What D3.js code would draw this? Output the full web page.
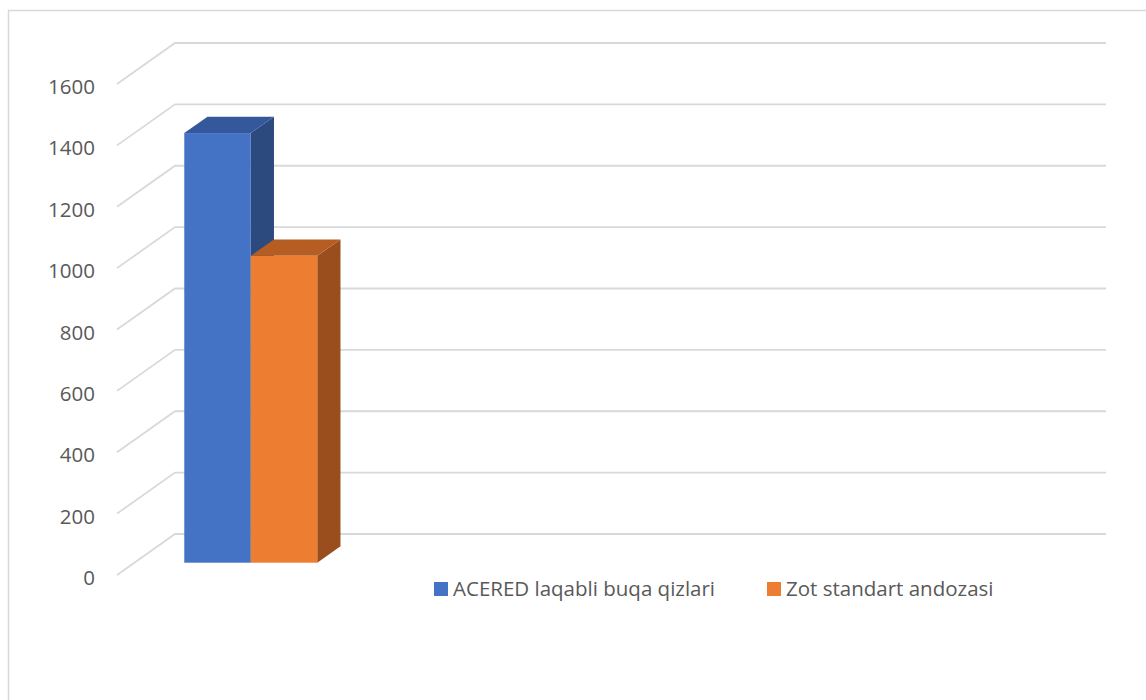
<!DOCTYPE html>
<html>
<head>
<meta charset="utf-8">
<script src="https://cdn.jsdelivr.net/npm/d3@7"></script>
<style>
  body { margin: 0; background: #fff; }
  text { font-family: "Open Sans", sans-serif; fill: #595959; }
</style>
</head>
<body>
<svg width="1146" height="700"></svg>
<script>
// data
const categories = ["1", "2", "3", "4"];
const seriesNames = ["ACERED laqabli buqa qizlari", "Zot standart andozasi"];
const acered = [1400, null, null, null];
const zotStandart = [1000, null, null, null];
const yTicks = [0, 200, 400, 600, 800, 1000, 1200, 1400, 1600];

const colors = {
    front: ["#4472C4", "#ED7D31"],
    top: ["#34589B", "#B55D22"],
    side: ["#2C4A7E", "#9A4D1D"]
};

function drawChart() {
    let svg = d3.select("svg");

    // chart border
    svg.append("rect")
        .attr("x", 8.5).attr("y", 10.5)
        .attr("width", 1160).attr("height", 720)
        .style("fill", "none")
        .style("stroke", "#d9d9d9")
        .style("stroke-width", 1.5);

    // back wall coords and oblique depth
    let wallLeft = 175, wallRight = 1106;
    let depthX = -58, depthY = 41;

    let y = d3.scaleLinear().domain([0, 1600]).range([534, 43]);
    let x = d3.scaleBand().domain(categories).range([0, wallRight - wallLeft]);

    function project(px, v, z) {
        return [wallLeft + px + depthX * z, y(v) + depthY * z];
    }

    // gridlines: back wall + side wall diagonal
    let grid = svg.append("g");
    yTicks.forEach(function (t) {
        grid.append("polyline")
            .attr("points", [project(0, t, 1), project(0, t, 0), [wallRight, y(t)]].map(p => p.join(",")).join(" "))
            .style("fill", "none")
            .style("stroke", "#d9d9d9")
            .style("stroke-width", 1.8);
    });

    // y labels
    svg.append("g").selectAll("text")
        .data(yTicks)
        .enter()
        .append("text")
        .attr("x", 95)
        .attr("y", d => y(d) + depthY + 10)
        .attr("text-anchor", "end")
        .style("font-size", "20.5px")
        .text(d => d);

    // bars
    let barW = x.bandwidth() / 3.5;
    let x1 = d3.scaleBand().domain(seriesNames)
        .range([(x.bandwidth() - 2 * barW) / 2, (x.bandwidth() + 2 * barW) / 2]);
    let zF = 0.7, zB = 0.3;

    let bars = [];
    categories.forEach(function (c, i) {
        [acered, zotStandart].forEach(function (vals, s) {
            if (vals[i] != null) bars.push({ c: c, s: s, v: vals[i] });
        });
    });

    let barLayer = svg.append("g");
    bars.forEach(function (b) {
        let l = x(b.c) + x1(seriesNames[b.s]);
        let r = l + barW;
        let pts = function (arr) { return arr.map(p => p.join(",")).join(" "); };
        // side
        barLayer.append("polygon")
            .attr("points", pts([project(r, 0, zF), project(r, 0, zB), project(r, b.v, zB), project(r, b.v, zF)]))
            .style("fill", colors.side[b.s]);
        // top
        barLayer.append("polygon")
            .attr("points", pts([project(l, b.v, zF), project(l, b.v, zB), project(r, b.v, zB), project(r, b.v, zF)]))
            .style("fill", colors.top[b.s]);
        // front
        let fl = project(l, b.v, zF), fr = project(r, 0, zF);
        barLayer.append("rect")
            .attr("x", fl[0]).attr("y", fl[1])
            .attr("width", fr[0] - fl[0]).attr("height", fr[1] - fl[1])
            .style("fill", colors.front[b.s]);
    });

    // legend
    let legendX = [434, 767];
    let legend = svg.append("g");
    seriesNames.forEach(function (name, i) {
        legend.append("rect")
            .attr("x", legendX[i]).attr("y", 582)
            .attr("width", 14).attr("height", 14)
            .style("fill", colors.front[i]);
        legend.append("text")
            .attr("x", legendX[i] + 19).attr("y", 596)
            .style("font-size", "20.5px")
            .text(name);
    });
}

drawChart();
</script>
</body>
</html>
